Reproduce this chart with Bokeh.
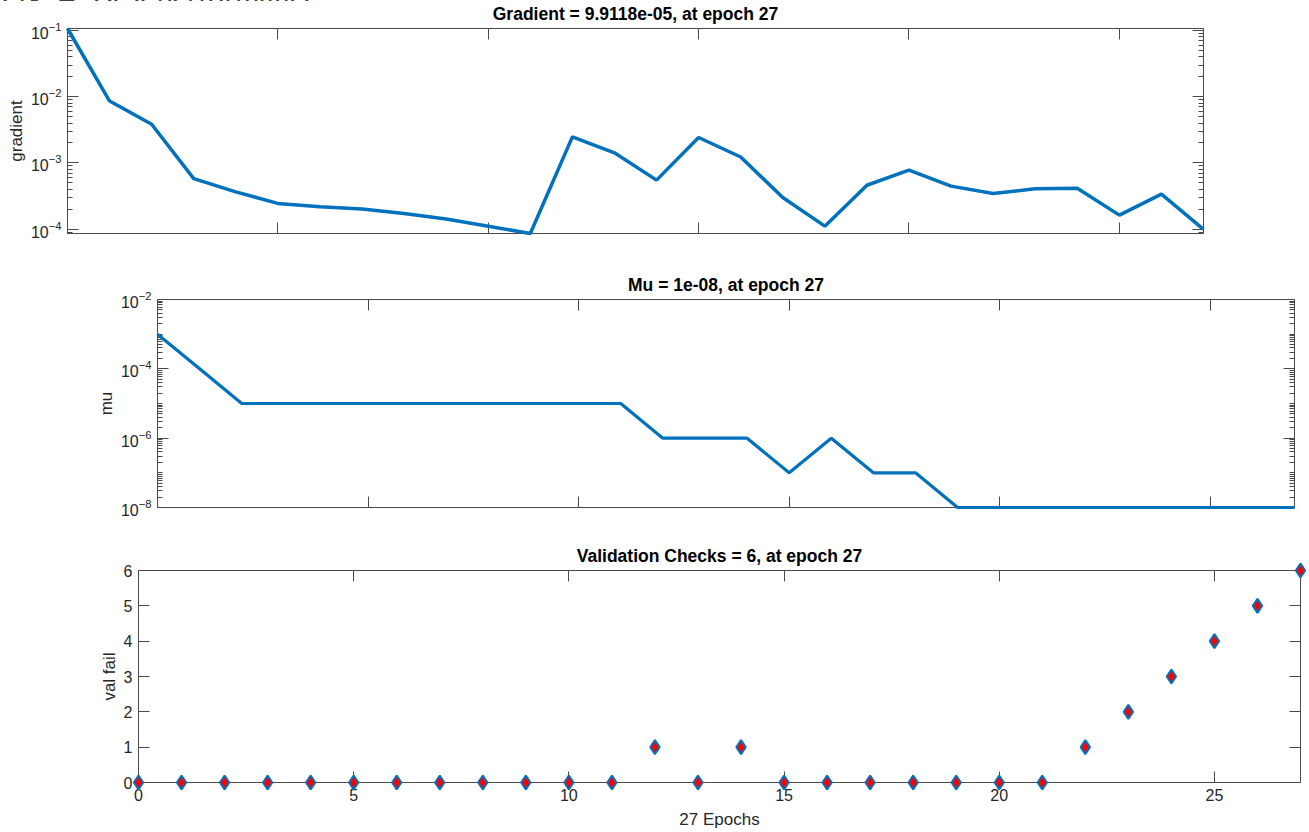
from bokeh.plotting import figure
from bokeh.layouts import column, row
from bokeh.models import (Range1d, FixedTicker, LogAxis, LinearAxis, CustomJSTickFormatter, Div)
from bokeh.embed import file_html
from bokeh.resources import INLINE

# ---------------- data ----------------
epochs = [0, 1, 2, 3, 4, 5, 6, 7, 8, 9, 10, 11, 12, 13, 14, 15, 16, 17, 18, 19, 20, 21, 22, 23, 24, 25, 26, 27]
gradient = [0.107, 0.0086, 0.00384, 5.8e-4, 3.66e-4, 2.45e-4, 2.18e-4, 2.01e-4, 1.73e-4, 1.42e-4,
            1.11e-4, 8.6e-5, 2.47e-3, 1.42e-3, 5.5e-4, 2.42e-3, 1.23e-3, 3.0e-4, 1.11e-4, 4.6e-4,
            7.8e-4, 4.46e-4, 3.46e-4, 4.06e-4, 4.16e-4, 1.63e-4, 3.38e-4, 9.9118e-5]
mu = [1e-3, 1e-4, 1e-5, 1e-5, 1e-5, 1e-5, 1e-5, 1e-5, 1e-5, 1e-5, 1e-5, 1e-5, 1e-6, 1e-6, 1e-6,
      1e-7, 1e-6, 1e-7, 1e-7, 1e-8, 1e-8, 1e-8, 1e-8, 1e-8, 1e-8, 1e-8, 1e-8, 1e-8]
val_fail = [0, 0, 0, 0, 0, 0, 0, 0, 0, 0, 0, 0, 1, 0, 1, 0, 0, 0, 0, 0, 0, 0, 1, 2, 3, 4, 5, 6]

titles = ["Gradient = 9.9118e-05, at epoch 27", "Mu = 1e-08, at epoch 27", "Validation Checks = 6, at epoch 27"]
ylabels = ["gradient", "mu", "val fail"]
xlabel = "27 Epochs"
caption = "Fig. 4: Best performance"

x_ticks = [0, 5, 10, 15, 20, 25]
grad_major = [1e-4, 1e-3, 1e-2, 1e-1]
mu_major = [1e-8, 1e-6, 1e-4, 1e-2]
vf_ticks = [0, 1, 2, 3, 4, 5, 6]

FONT = "Liberation Sans"
AX = "#4a4a4a"
TXT = "#262626"
BLUE = "#0072BD"


def minor_log(lo_exp, hi_exp, majors):
    out = []
    for e in range(lo_exp, hi_exp):
        for k in range(1, 10):
            v = k * 10.0 ** e
            if v not in majors:
                out.append(v)
    return out


def style_axis(ax, show_labels, standoff=6):
    ax.axis_line_color = AX
    ax.axis_line_width = 1
    ax.major_tick_line_color = AX
    ax.minor_tick_line_color = AX
    ax.major_tick_in = 11
    ax.major_tick_out = 0
    ax.minor_tick_in = 5
    ax.minor_tick_out = 0
    ax.major_label_text_font = FONT
    ax.major_label_text_color = TXT
    if show_labels:
        ax.major_label_text_font_size = "16px"
        ax.major_label_standoff = standoff
    else:
        ax.formatter = CustomJSTickFormatter(code="return ' '")
        ax.major_label_text_font_size = "1px"
        ax.major_label_standoff = 0
    ax.axis_label_text_font = FONT
    ax.axis_label_text_font_size = "17px"
    ax.axis_label_text_font_style = "normal"
    ax.axis_label_text_color = TXT


def make_fig(title, ylabel, y_range, log, width, height, bl, br, bt, bb, yticks, yminor, xlabels):
    p = figure(width=width, height=height,
               x_range=Range1d(0, 27), y_range=y_range,
               y_axis_type="log" if log else "linear",
               output_backend="svg", toolbar_location=None,
               min_border_left=bl, min_border_right=br,
               min_border_top=bt, min_border_bottom=bb)
    p.title.text = title
    p.title.align = "center"
    p.title.text_font = FONT
    p.title.text_font_size = "17.5px"
    p.title.text_font_style = "bold"
    p.title.text_color = "#000000"
    p.title.standoff = 1
    p.grid.visible = False
    p.outline_line_color = None

    # left axis
    p.yaxis.ticker = FixedTicker(ticks=yticks, minor_ticks=yminor)
    p.yaxis.axis_label = ylabel
    style_axis(p.yaxis[0], True, 6)
    p.yaxis.axis_label_standoff = 2

    # bottom axis
    p.xaxis.ticker = FixedTicker(ticks=x_ticks)
    style_axis(p.xaxis[0], xlabels, 6)
    if xlabels:
        p.xaxis.axis_label = xlabel
        p.xaxis.axis_label_standoff = 6

    # right axis
    ra = LogAxis() if log else LinearAxis()
    ra.ticker = FixedTicker(ticks=yticks, minor_ticks=yminor)
    style_axis(ra, False)
    p.add_layout(ra, "right")

    # top axis
    ta = LinearAxis()
    ta.ticker = FixedTicker(ticks=x_ticks)
    style_axis(ta, False)
    p.add_layout(ta, "above")
    return p


# panel 1: gradient
f1 = make_fig(titles[0], ylabels[0], Range1d(min(gradient), max(gradient)), True,
              1209, 271, 67, 6, 28, 38, grad_major, minor_log(-5, -1, grad_major), False)
f1.line(epochs, gradient, line_color=BLUE, line_width=3.5, level="overlay")

# panel 2: mu
f2 = make_fig(titles[1], ylabels[1], Range1d(1e-8, 1e-2), True,
              1300, 271, 157, 6, 28, 35, mu_major, minor_log(-8, -2, mu_major), False)
f2.line(epochs, mu, line_color=BLUE, line_width=3.2, level="overlay")

# panel 3: validation fails
f3 = make_fig(titles[2], ylabels[2], Range1d(0, 6), False,
              1307, 289, 138, 7, 28, 49, vf_ticks, [], True)
f3.scatter(epochs, val_fail, marker="diamond", size=14, fill_color="#FF0000",
           line_color=BLUE, line_width=2, level="overlay")

cap = Div(text='<div style="font-family:\'Liberation Serif\';font-size:32px;line-height:42px;'
               'white-space:nowrap;color:#000;">' + caption + '</div>',
          width=420, height=26, margin=(-26, 0, 0, 0))

layout = column(cap, row(f1), row(f2), row(f3))

with open("out.html", "w") as fh:
    fh.write(file_html(layout, INLINE))
